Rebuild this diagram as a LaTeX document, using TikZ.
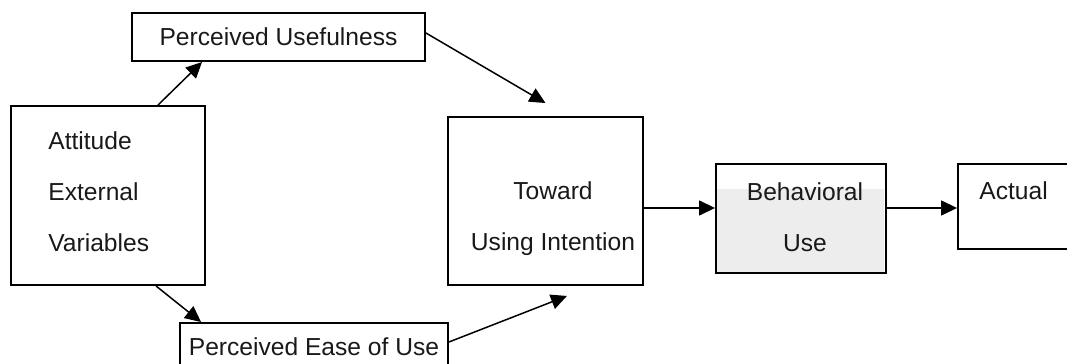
\documentclass[tikz,border=0pt]{standalone}
\usepackage{fontspec}
\setmainfont{Liberation Sans}
\usetikzlibrary{arrows.meta, calc, positioning}

\begin{document}
\begin{tikzpicture}[x=0.02cm, y=-0.02cm,
	box/.style={draw=black, line width=1.1pt, inner sep=0pt, font=\fontsize{14}{29}\selectfont, text=black!90},
	lbl/.style={inner sep=0pt, font=\fontsize{14}{29}\selectfont, text=black!90, align=center},
	arr/.style={line width=0.85pt, -{Triangle[length=0.32cm, width=0.3cm]}}]

	\useasboundingbox (0,0) rectangle (1067,364);
	\clip (0,0) rectangle (1067,364);

	\coordinate (row) at (0,208);

	\fill[black!7] (716,189) rectangle (884,273);

	\node[box, minimum width=5.86cm, minimum height=0.96cm] (pu) at (278.5,37) {Perceived Usefulness};
	\node[box, minimum width=5.36cm, minimum height=0.96cm] (pe) at (314,347) {Perceived Ease of Use};
	\node[box, minimum width=3.88cm, minimum height=3.58cm] (ext) at (108,195.5) {};
	\node[box, minimum width=3.9cm, minimum height=3.36cm] (int) at (545.5,201) {};
	\node[box, minimum width=3.4cm, minimum height=2.18cm] (beh) at (801,218.5) {};
	\node[box, minimum width=2.64cm, minimum height=1.7cm] (act) at (1024,206.5) {};

	\node[lbl, anchor=west, align=left] (extText) at (48,192) {Attitude\\External\\Variables};
	\node[lbl] (intText) at (553,219) {Toward\\Using Intention};
	\node[lbl] (behText) at (805,217) {Behavioral\\Use};
	\node[lbl, anchor=west] (actText) at (979,191) {Actual};

	\draw[arr] ($(ext.north)+(50,0)$) -- ($(pu.south west)+(71,0)$);
	\draw[arr] ($(ext.south)+(48,0)$) -- ($(pe.north west)+(22,0)$);
	\draw[arr] ($(pu.east)+(0,-4)$) -- ($(int.north)+(0,-13)$);
	\draw[arr] ($(pe.east)+(0,-5)$) -- ($(int.south)+(21.5,10)$);
	\draw[arr] (int.east |- row) -- (beh.west |- row);
	\draw[arr] (beh.east |- row) -- (act.west |- row);

\end{tikzpicture}
\end{document}
